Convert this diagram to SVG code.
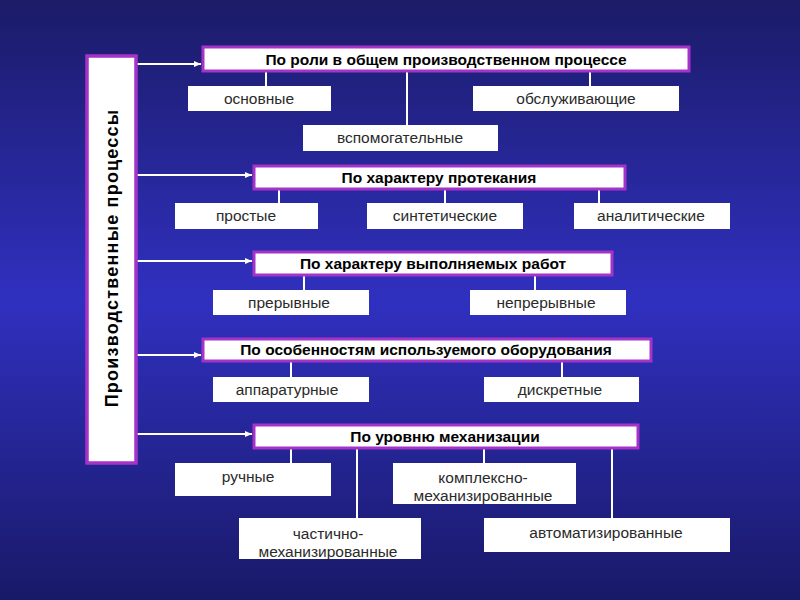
<svg xmlns="http://www.w3.org/2000/svg" width="800" height="600" viewBox="0 0 800 600">
<defs>
<linearGradient id="bg" x1="0" y1="0" x2="0" y2="1">
<stop offset="0" stop-color="#1b1b68"/>
<stop offset="0.5" stop-color="#3030c0"/>
<stop offset="1" stop-color="#191968"/>
</linearGradient>
<marker id="ah" markerWidth="8" markerHeight="8" refX="7" refY="4" orient="auto" markerUnits="userSpaceOnUse">
<path d="M0,1 L7,4 L0,7 Z" fill="#ffffff"/>
</marker>
<style>
.hdr{fill:#ffffff;stroke:#a533c8;stroke-width:3}
.box{fill:#ffffff}
.ht{font-family:"Liberation Sans",Arial,sans-serif;font-weight:bold;font-size:15.5px;fill:#000;text-anchor:middle}
.ct{font-family:"Liberation Sans",Arial,sans-serif;font-size:15.5px;fill:#2a2a2a;text-anchor:middle}
.ln{stroke:#ffffff;stroke-width:2;fill:none}
.ar{stroke:#ffffff;stroke-width:2;fill:none;marker-end:url(#ah)}
</style>
</defs>
<rect x="0" y="0" width="800" height="600" fill="url(#bg)"/>

<g id="connectors">
<line class="ar" x1="137" y1="64" x2="201" y2="64"/>
<line class="ar" x1="137" y1="175" x2="252" y2="175"/>
<line class="ar" x1="137" y1="261" x2="252" y2="261"/>
<line class="ar" x1="137" y1="355" x2="201" y2="355"/>
<line class="ar" x1="137" y1="434" x2="252" y2="434"/>
<line class="ln" x1="266" y1="71" x2="266" y2="86"/>
<line class="ln" x1="407" y1="71" x2="407" y2="125"/>
<line class="ln" x1="590" y1="71" x2="590" y2="86"/>
<line class="ln" x1="279" y1="189" x2="279" y2="203"/>
<line class="ln" x1="445" y1="189" x2="445" y2="203"/>
<line class="ln" x1="599" y1="189" x2="599" y2="203"/>
<line class="ln" x1="304" y1="275" x2="304" y2="290"/>
<line class="ln" x1="535" y1="275" x2="535" y2="290"/>
<line class="ln" x1="291" y1="361" x2="291" y2="377"/>
<line class="ln" x1="562" y1="361" x2="562" y2="377"/>
<line class="ln" x1="291" y1="448" x2="291" y2="463"/>
<line class="ln" x1="357" y1="448" x2="357" y2="518"/>
<line class="ln" x1="484" y1="448" x2="484" y2="463"/>
<line class="ln" x1="612" y1="448" x2="612" y2="518"/>
</g>

<g id="root">
<rect x="87" y="56" width="49" height="407" fill="#ffffff" stroke="#a533c8" stroke-width="3.5"/>
<text transform="translate(118,258) rotate(-90)" font-family="'Liberation Sans',Arial,sans-serif" font-weight="bold" font-size="18" letter-spacing="1.2" text-anchor="middle" fill="#000">Производственные процессы</text>
</g>

<g id="h1"><rect class="hdr" x="203" y="47" width="486" height="24"/><text class="ht" x="446" y="65">По роли в общем производственном процессе</text></g>
<g id="c1a"><rect class="box" x="188" y="86" width="143" height="25"/><text class="ct" x="259" y="104">основные</text></g>
<g id="c1b"><rect class="box" x="473" y="86" width="206" height="25"/><text class="ct" x="576" y="104">обслуживающие</text></g>
<g id="c1c"><rect class="box" x="303" y="125" width="195" height="26"/><text class="ct" x="400" y="143">вспомогательные</text></g>

<g id="h2"><rect class="hdr" x="254" y="166" width="371" height="23"/><text class="ht" x="439" y="183">По характеру протекания</text></g>
<g id="c2a"><rect class="box" x="175" y="203" width="143" height="26"/><text class="ct" x="246" y="221">простые</text></g>
<g id="c2b"><rect class="box" x="367" y="203" width="156" height="26"/><text class="ct" x="445" y="221">синтетические</text></g>
<g id="c2c"><rect class="box" x="574" y="203" width="156" height="26"/><text class="ct" x="651" y="221">аналитические</text></g>

<g id="h3"><rect class="hdr" x="254" y="252" width="358" height="23"/><text class="ht" x="433" y="269">По характеру выполняемых работ</text></g>
<g id="c3a"><rect class="box" x="213" y="290" width="156" height="25"/><text class="ct" x="289" y="308">прерывные</text></g>
<g id="c3b"><rect class="box" x="470" y="290" width="156" height="25"/><text class="ct" x="546" y="308">непрерывные</text></g>

<g id="h4"><rect class="hdr" x="203" y="339" width="448" height="22"/><text class="ht" x="426" y="355">По особенностям используемого оборудования</text></g>
<g id="c4a"><rect class="box" x="213" y="377" width="156" height="25"/><text class="ct" x="287" y="395">аппаратурные</text></g>
<g id="c4b"><rect class="box" x="484" y="377" width="155" height="25"/><text class="ct" x="560" y="395">дискретные</text></g>

<g id="h5"><rect class="hdr" x="254" y="425" width="384" height="23"/><text class="ht" x="445" y="442">По уровню механизации</text></g>
<g id="c5a"><rect class="box" x="175" y="463" width="156" height="33"/><text class="ct" x="248" y="482">ручные</text></g>
<g id="c5b"><rect class="box" x="393" y="463" width="183" height="41"/><text class="ct" x="483" y="483">комплексно-</text><text class="ct" x="483" y="501">механизированные</text></g>
<g id="c5c"><rect class="box" x="239" y="518" width="182" height="41"/><text class="ct" x="328" y="539">частично-</text><text class="ct" x="328" y="557">механизированные</text></g>
<g id="c5d"><rect class="box" x="484" y="518" width="246" height="34"/><text class="ct" x="606" y="538">автоматизированные</text></g>
</svg>
